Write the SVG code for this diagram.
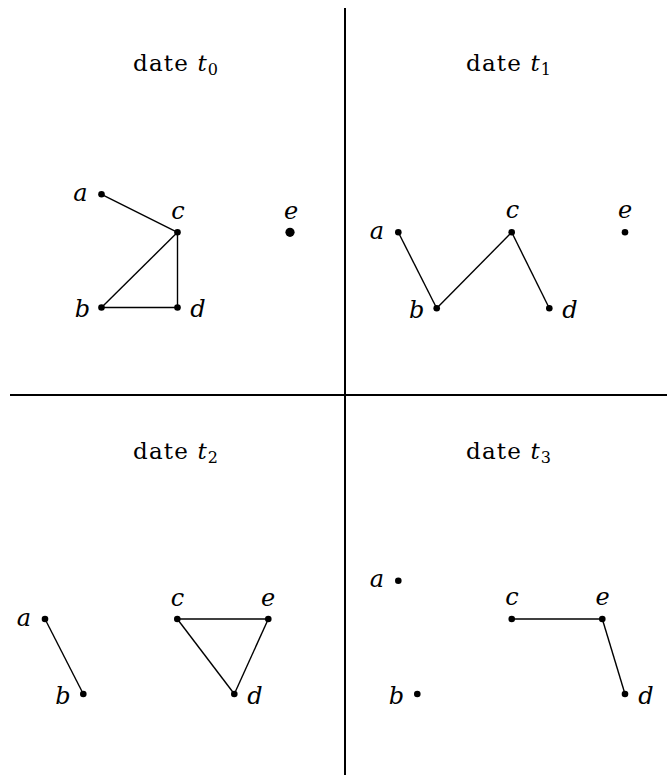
<svg xmlns="http://www.w3.org/2000/svg" width="667" height="778" viewBox="0 0 667 778">
<style>
.div{stroke:#000;stroke-width:2;fill:none}
.edge{stroke:#000;stroke-width:1.4;fill:none}
.dot{fill:#000}
.lbl{font-family:"DejaVu Serif","Liberation Serif",serif;font-style:italic;font-size:24px;text-anchor:middle;fill:#000}
.title{font-family:"DejaVu Serif","Liberation Serif",serif;font-size:23px;fill:#000}
.it{font-style:italic}
.sub{font-size:16px}
</style>
<rect width="667" height="778" fill="#fff"/>
<g id="dividers">
<line class="div" x1="345" y1="8" x2="345" y2="775"/>
<line class="div" x1="10" y1="395" x2="667" y2="395"/>
</g>
<g id="titles">
<text class="title" x="133" y="71" textLength="85" lengthAdjust="spacing">date <tspan class="it">t</tspan><tspan class="sub" dy="4">0</tspan></text>
<text class="title" x="466" y="71" textLength="85" lengthAdjust="spacing">date <tspan class="it">t</tspan><tspan class="sub" dy="4">1</tspan></text>
<text class="title" x="133" y="459" textLength="85" lengthAdjust="spacing">date <tspan class="it">t</tspan><tspan class="sub" dy="4">2</tspan></text>
<text class="title" x="466" y="459" textLength="85" lengthAdjust="spacing">date <tspan class="it">t</tspan><tspan class="sub" dy="4">3</tspan></text>
</g>
<g id="connectors">
<line class="edge" x1="101.5" y1="194.3" x2="177.5" y2="232.3"/>
<line class="edge" x1="101.5" y1="307.5" x2="177.5" y2="232.3"/>
<line class="edge" x1="177.5" y1="232.3" x2="177.5" y2="307.5"/>
<line class="edge" x1="101.5" y1="307.5" x2="177.5" y2="307.5"/>
<line class="edge" x1="398.3" y1="232.3" x2="436.7" y2="308.3"/>
<line class="edge" x1="436.7" y1="308.3" x2="511.7" y2="232.3"/>
<line class="edge" x1="511.7" y1="232.3" x2="549.3" y2="308.3"/>
<line class="edge" x1="45" y1="619" x2="83.3" y2="694"/>
<line class="edge" x1="177.3" y1="619" x2="268.3" y2="619"/>
<line class="edge" x1="177.3" y1="619" x2="234.3" y2="694"/>
<line class="edge" x1="268.3" y1="619" x2="234.3" y2="694"/>
<line class="edge" x1="511.7" y1="619" x2="602.3" y2="619"/>
<line class="edge" x1="602.3" y1="619" x2="625" y2="694"/>
</g>
<g id="t0-a"><circle class="dot" cx="101.5" cy="194.3" r="3.3"/><text class="lbl" x="80.5" y="201">a</text></g>
<g id="t0-c"><circle class="dot" cx="177.5" cy="232.3" r="3.3"/><text class="lbl" x="178" y="219">c</text></g>
<g id="t0-e"><circle class="dot" cx="290" cy="232.3" r="4.6"/><text class="lbl" x="291" y="219">e</text></g>
<g id="t0-b"><circle class="dot" cx="101.5" cy="307.5" r="3.3"/><text class="lbl" x="82.5" y="317">b</text></g>
<g id="t0-d"><circle class="dot" cx="177.5" cy="307.5" r="3.3"/><text class="lbl" x="198" y="317">d</text></g>
<g id="t1-a"><circle class="dot" cx="398.3" cy="232.3" r="3.3"/><text class="lbl" x="377" y="239">a</text></g>
<g id="t1-c"><circle class="dot" cx="511.7" cy="232.3" r="3.3"/><text class="lbl" x="512.5" y="218">c</text></g>
<g id="t1-e"><circle class="dot" cx="625" cy="232.3" r="3.3"/><text class="lbl" x="625" y="218">e</text></g>
<g id="t1-b"><circle class="dot" cx="436.7" cy="308.3" r="3.3"/><text class="lbl" x="416.7" y="318">b</text></g>
<g id="t1-d"><circle class="dot" cx="549.3" cy="308.3" r="3.3"/><text class="lbl" x="570" y="318">d</text></g>
<g id="t2-a"><circle class="dot" cx="45" cy="619" r="3.3"/><text class="lbl" x="24" y="625.5">a</text></g>
<g id="t2-b"><circle class="dot" cx="83.3" cy="694" r="3.3"/><text class="lbl" x="63" y="703.5">b</text></g>
<g id="t2-c"><circle class="dot" cx="177.3" cy="619" r="3.3"/><text class="lbl" x="177.5" y="605.5">c</text></g>
<g id="t2-e"><circle class="dot" cx="268.3" cy="619" r="3.3"/><text class="lbl" x="268" y="605.5">e</text></g>
<g id="t2-d"><circle class="dot" cx="234.3" cy="694" r="3.3"/><text class="lbl" x="255" y="703.5">d</text></g>
<g id="t3-a"><circle class="dot" cx="398.3" cy="580.7" r="3.3"/><text class="lbl" x="377" y="587">a</text></g>
<g id="t3-b"><circle class="dot" cx="417.3" cy="694" r="3.3"/><text class="lbl" x="396.5" y="703.5">b</text></g>
<g id="t3-c"><circle class="dot" cx="511.7" cy="619" r="3.3"/><text class="lbl" x="512" y="605">c</text></g>
<g id="t3-e"><circle class="dot" cx="602.3" cy="619" r="3.3"/><text class="lbl" x="602.5" y="605">e</text></g>
<g id="t3-d"><circle class="dot" cx="625" cy="694" r="3.3"/><text class="lbl" x="646" y="703.5">d</text></g>
</svg>
